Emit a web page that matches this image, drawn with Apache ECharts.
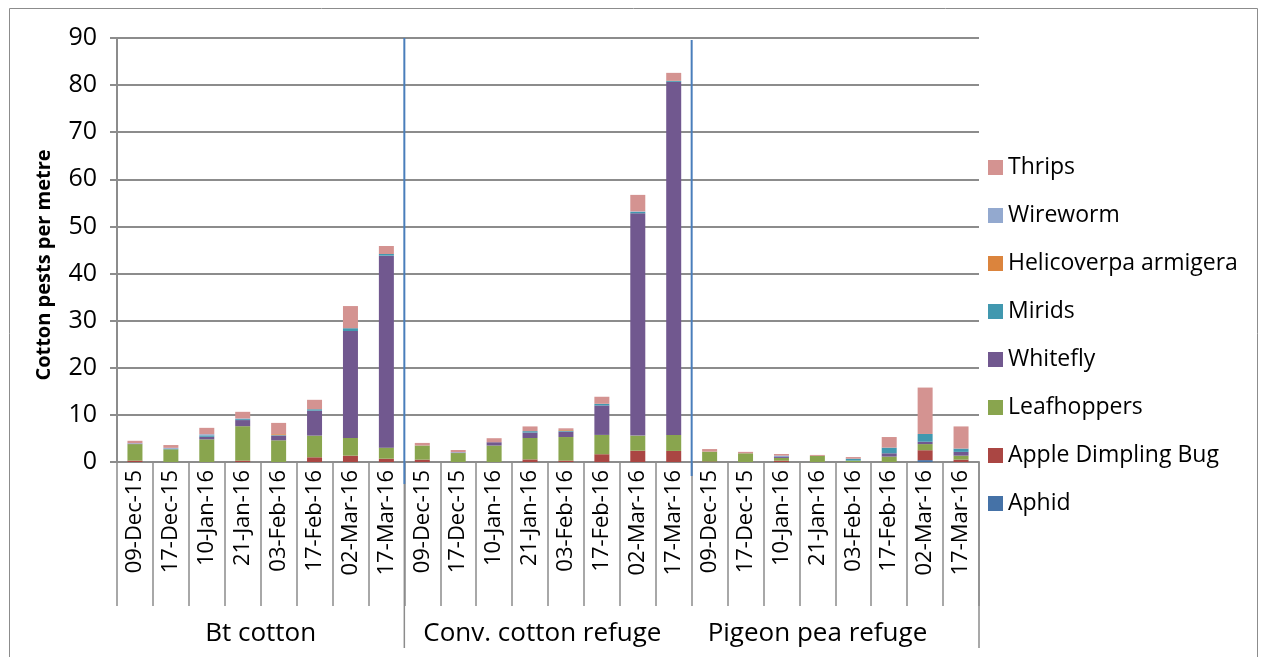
<!DOCTYPE html>
<html><head><meta charset="utf-8">
<script src="https://cdn.jsdelivr.net/npm/echarts@6/dist/echarts.min.js"></script>
<style>html,body{margin:0;padding:0;background:#fff}#c{width:1261px;height:657px}</style>
</head><body><div id="c"></div><script>
const dates = ['09-Dec-15','17-Dec-15','10-Jan-16','21-Jan-16','03-Feb-16','17-Feb-16','02-Mar-16','17-Mar-16'];
const groups = ['Bt cotton','Conv. cotton refuge','Pigeon pea refuge'];
const seriesNames = ['Aphid','Apple Dimpling Bug','Leafhoppers','Whitefly','Mirids','Helicoverpa armigera','Wireworm','Thrips'];
const yAxisTitle = 'Cotton pests per metre';

const aphid            = [0,0,0,0,0,0,0,0,            0,0,0,0,0,0,0,0,              0,0,0,0,0,0,0.4,0];
const appleDimplingBug = [0.3,0,0,0.3,0,1.0,1.35,0.7, 0.5,0,0,0.55,0.3,1.65,2.4,2.35, 0.1,0,0.3,0,0,0,2.1,0.5];
const leafhoppers      = [3.5,2.7,4.8,7.3,4.6,4.6,3.75,2.35, 3.0,1.9,3.5,4.55,5.0,4.1,3.2,3.4, 2.1,1.85,0.55,1.3,0.3,1.15,1.3,0.85];
const whitefly         = [0.1,0,0.55,1.3,1.0,5.3,22.7,40.75, 0,0.1,0.7,1.15,1.15,6.25,47.2,74.95, 0,0,0.2,0,0,0.7,0.5,0.8];
const mirids           = [0,0.1,0.3,0.2,0.1,0.3,0.6,0.35, 0,0,0,0.3,0.2,0.35,0.3,0.2, 0,0,0,0,0.4,1.2,1.65,0.7];
const helicoverpa      = [0,0,0,0,0.2,0,0,0,          0,0,0,0,0.15,0,0,0,            0,0,0,0,0,0,0,0];
const wireworm         = [0.1,0.2,0.25,0.15,0,0,0,0,  0,0.1,0,0,0,0,0.1,0,           0,0,0.3,0,0,0,0,0];
const thrips           = [0.5,0.6,1.35,1.4,2.4,2.0,4.7,1.7, 0.55,0.45,0.85,1.0,0.35,1.5,3.5,1.7, 0.55,0.3,0.35,0.2,0.35,2.25,9.85,4.7];

const values = [aphid, appleDimplingBug, leafhoppers, whitefly, mirids, helicoverpa, wireworm, thrips];
const colors = ['#4572A7','#AA4643','#89A54E','#71588F','#4198AF','#DB843D','#93A9CF','#D49391'];

const keys = [];
groups.forEach((g, gi) => dates.forEach(d => keys.push(gi + '|' + d)));

const FONT = 'Open Sans';
const GRID = '#8c8c8c';

const chart = echarts.init(document.getElementById('c'));
chart.setOption({
  animation: false,
  backgroundColor: '#fff',
  textStyle: { fontFamily: FONT, color: '#000' },
  grid: { left: 117, right: 282, top: 38, bottom: 195, containLabel: false },
  legend: {
    orient: 'vertical', left: 983, top: 151,
    itemWidth: 15, itemHeight: 15, itemGap: 25,
    data: seriesNames.slice().reverse(),
    textStyle: { fontFamily: FONT, fontSize: 23, color: '#000', padding: [0,0,0,0] },
    icon: 'rect'
  },
  xAxis: {
    type: 'category', data: keys,
    axisLine: { show: true, lineStyle: { color: GRID, width: 2 } },
    axisTick: { show: true, interval: 0, length: 144, lineStyle: { color: GRID, width: 1.5 } },
    axisLabel: {
      interval: 0, rotate: 90, margin: 8, fontSize: 22, color: '#000', fontFamily: FONT,
      formatter: v => v.split('|')[1]
    }
  },
  yAxis: {
    type: 'value', min: 0, max: 90, interval: 10,
    axisLine: { show: true, lineStyle: { color: GRID, width: 2 } },
    axisTick: { show: true, length: 7, lineStyle: { color: GRID, width: 2 } },
    axisLabel: { margin: 20, fontSize: 25, color: '#000', fontFamily: FONT },
    splitLine: { show: true, lineStyle: { color: GRID, width: 2 } }
  },
  series: seriesNames.map((n, i) => ({
    name: n, type: 'bar', stack: 'total', barWidth: 15,
    data: values[i].map(v => v === 0 ? '-' : v),
    itemStyle: { color: colors[i], borderWidth: 0 }
  }))
});

const px = i => chart.convertToPixel({ xAxisIndex: 0 }, i);
const py = v => chart.convertToPixel({ yAxisIndex: 0 }, v);
const step = px(1) - px(0);
const b = k => px(0) - step / 2 + k * step;
const y0 = py(0), yTop = py(90);
const blue = '#4A7EBB';
const gfont = '26px "Open Sans"';
const graphic = [
  { type: 'rect', shape: { x: 9.5, y: 8.5, width: 1248, height: 680 }, style: { fill: null, stroke: '#8c8c8c', lineWidth: 1 }, z: 100 },
  { type: 'line', shape: { x1: b(8), y1: yTop, x2: b(8), y2: y0 + 22 }, style: { stroke: blue, lineWidth: 2 }, z: 100 },
  { type: 'line', shape: { x1: b(16), y1: yTop + 2, x2: b(16), y2: y0 + 14 }, style: { stroke: blue, lineWidth: 2 }, z: 100 },
  { type: 'line', shape: { x1: b(8), y1: y0 + 22, x2: b(8), y2: 648 }, style: { stroke: GRID, lineWidth: 1.5 }, z: 100 },
  { type: 'line', shape: { x1: b(24), y1: y0, x2: b(24), y2: 648 }, style: { stroke: GRID, lineWidth: 1.5 }, z: 100 },
  { type: 'text', x: (b(0) + b(8)) / 2, y: 634, style: { text: groups[0], font: gfont, fill: '#000', align: 'center', verticalAlign: 'middle' }, z: 100 },
  { type: 'text', x: b(8) + 19, y: 634, style: { text: groups[1], font: gfont, fill: '#000', align: 'left', verticalAlign: 'middle' }, z: 100 },
  { type: 'text', x: b(16) + 16, y: 634, style: { text: groups[2], font: gfont, fill: '#000', align: 'left', verticalAlign: 'middle' }, z: 100 },
  { type: 'text', x: 44, y: 265, rotation: Math.PI / 2, style: { text: yAxisTitle, font: 'bold 20px "Open Sans"', fill: '#000', align: 'center', verticalAlign: 'middle' }, z: 100 }
];
chart.setOption({ graphic: graphic });
</script></body></html>
